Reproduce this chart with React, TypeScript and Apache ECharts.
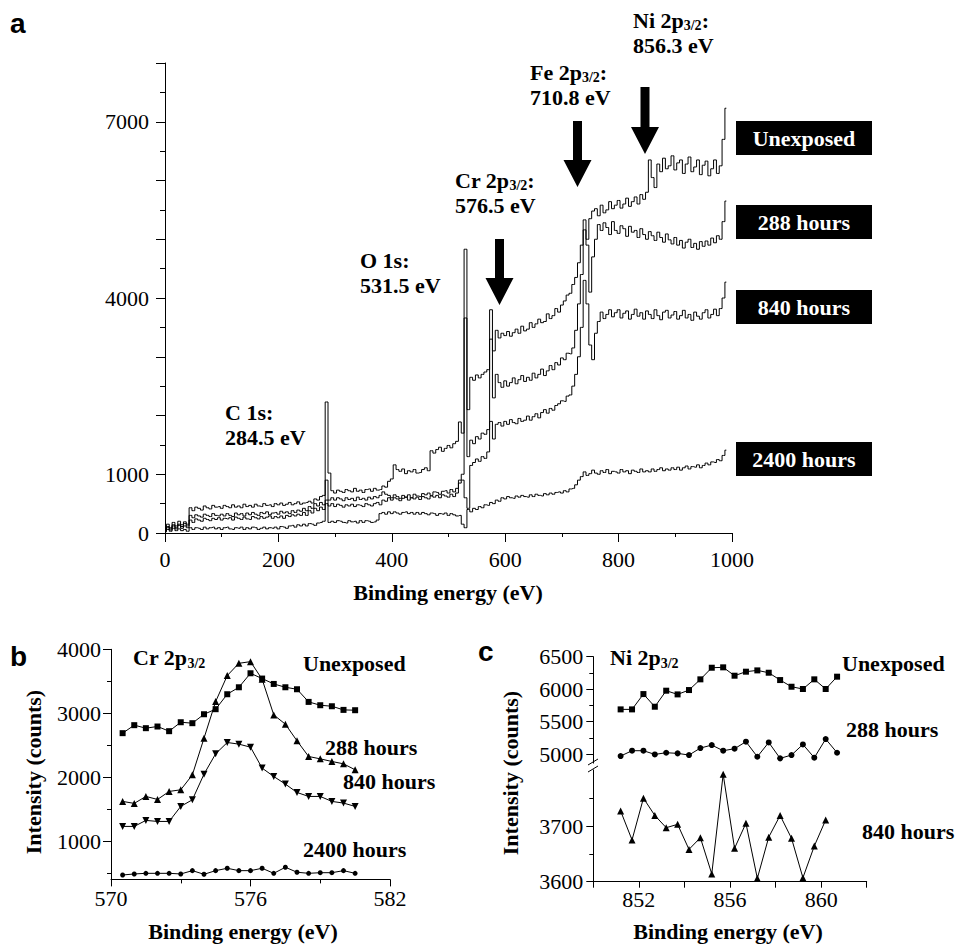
import React, { useEffect, useRef } from 'react';
import * as echarts from 'echarts';

// ---------- Panel a: survey spectra (binding energy, eV) ----------
const energyA = [
  0, 5, 10, 15, 20, 25, 30, 35, 40, 45,
  50, 55, 60, 65, 70, 75, 80, 85, 90, 95,
  100, 105, 110, 115, 120, 125, 130, 135, 140, 145,
  150, 155, 160, 165, 170, 175, 180, 185, 190, 195,
  200, 205, 210, 215, 220, 225, 230, 235, 240, 245,
  250, 255, 260, 265, 270, 275, 280, 285, 290, 295,
  300, 305, 310, 315, 320, 325, 330, 335, 340, 345,
  350, 355, 360, 365, 370, 375, 380, 385, 390, 395,
  400, 405, 410, 415, 420, 425, 430, 435, 440, 445,
  450, 455, 460, 465, 470, 475, 480, 485, 490, 495,
  500, 505, 510, 515, 520, 525, 530, 535, 540, 545,
  550, 555, 560, 565, 570, 575, 580, 585, 590, 595,
  600, 605, 610, 615, 620, 625, 630, 635, 640, 645,
  650, 655, 660, 665, 670, 675, 680, 685, 690, 695,
  700, 705, 710, 715, 720, 725, 730, 735, 740, 745,
  750, 755, 760, 765, 770, 775, 780, 785, 790, 795,
  800, 805, 810, 815, 820, 825, 830, 835, 840, 845,
  850, 855, 860, 865, 870, 875, 880, 885, 890, 895,
  900, 905, 910, 915, 920, 925, 930, 935, 940, 945,
  950, 955, 960, 965, 970, 975, 980, 985, 990,
];

const unexposedA = [
  60, 150, 90, 180, 120, 200, 140, 190, 150, 430,
  380, 440, 420, 390, 460, 430, 410, 470, 440, 450,
  420, 470, 450, 430, 480, 440, 460, 430, 490, 450,
  470, 440, 490, 460, 450, 500, 470, 480, 450, 500,
  480, 510, 470, 490, 520, 480, 500, 530, 490, 510,
  520, 540, 510, 580, 560, 620, 640, 2230, 1020, 720,
  680, 730, 710, 690, 740, 720, 700, 760, 710, 730,
  690, 740, 750, 710, 760, 730, 740, 800, 780, 880,
  920, 1160, 1080, 1050, 1090, 1010, 1060, 1040, 1080, 1020,
  1030, 1080, 1110, 1060, 1400, 1360, 1420, 1460, 1390, 1440,
  1490, 1450, 1520, 1560, 1890, 1700, 4830, 2100, 2650, 2600,
  2690, 2640, 2700, 2740, 2780, 3800, 3100, 3450, 3320, 3400,
  3360, 3430, 3350, 3410, 3470, 3400, 3520, 3440, 3470, 3580,
  3500, 3560, 3640, 3580, 3600, 3730, 3650, 3700, 3820, 3760,
  3880, 3950, 4050, 4080, 4230, 4350, 4600, 4900, 5160, 5000,
  5350, 5480, 5520, 5400, 5580, 5450, 5500, 5640, 5520, 5580,
  5660, 5530, 5600, 5700, 5560, 5640, 5720, 5600, 5760, 5680,
  5800, 6350, 6050, 5880, 6280, 6150, 6380, 6200, 6250, 6420,
  6180, 6300, 6350, 6120, 6280, 6400, 6150, 6230, 6350, 6100,
  6260, 6330, 6080, 6200, 6350, 6120, 6250, 6700, 7230,
];

const h288A = [
  40, 110, 70, 140, 90, 150, 110, 160, 120, 300,
  260, 310, 290, 270, 320, 300, 280, 330, 300, 290,
  320, 290, 330, 300, 280, 340, 310, 330, 290, 340,
  310, 350, 320, 300, 350, 330, 360, 310, 340, 350,
  320, 370, 340, 360, 330, 380, 350, 390, 370, 420,
  380, 450, 420, 500, 460, 520, 480, 900, 560, 600,
  560, 600, 580, 550, 600, 570, 590, 550, 610, 570,
  590, 560, 610, 580, 620, 600, 640, 700, 660, 640,
  600, 650, 620, 590, 640, 610, 650, 600, 660, 630,
  620, 670, 650, 680, 640, 700, 690, 660, 710, 720,
  680, 740, 700, 760, 900, 1000, 3660, 1300, 1580, 1520,
  1640, 1600, 1700, 1680, 1760, 3300, 2300, 2700, 2560, 2480,
  2590, 2500, 2560, 2640, 2540, 2610, 2680, 2580, 2650, 2600,
  2720, 2640, 2700, 2790, 2680, 2760, 2850, 2780, 2900, 2860,
  2980, 2950, 3060, 3050, 3150, 3450, 3900, 4400, 5330, 4900,
  4100, 4700, 5000, 5250, 5150, 5280, 5200, 5080, 5300, 5150,
  5100, 5230, 5180, 5050, 5220, 5120, 5150, 5030, 5180, 5080,
  5000, 5130, 5060, 4980, 5120, 5030, 4950, 5090, 4990, 4920,
  5030, 4900, 4980, 4850, 4950, 5000, 4860, 4930, 4830, 4960,
  4880, 4970, 4900, 5020, 4940, 5060, 5000, 5300, 5650,
];

const h840A = [
  30, 90, 50, 120, 70, 130, 80, 120, 90, 220,
  180, 240, 220, 200, 250, 230, 210, 250, 230, 260,
  220, 250, 240, 260, 220, 270, 250, 230, 270, 240,
  230, 280, 260, 240, 280, 250, 270, 290, 250, 280,
  260, 290, 250, 300, 280, 310, 290, 320, 300, 350,
  300, 380, 340, 420, 380, 440, 400, 560, 460, 500,
  450, 490, 470, 440, 480, 460, 490, 450, 480, 470,
  450, 500, 480, 460, 500, 520, 480, 560, 540, 600,
  560, 600, 580, 550, 590, 610, 560, 600, 580, 610,
  570, 620, 600, 580, 630, 610, 640, 600, 650, 630,
  610, 660, 620, 680, 850, 900, 600, 420, 1150, 1200,
  1260, 1220, 1300, 1270, 1380, 1900, 1600, 1850, 1880, 1820,
  1900, 1850, 1930, 1880, 1860, 1950, 1900, 1920, 1990, 1920,
  1980, 2030, 1960, 2050, 2100, 2040, 2120, 2090, 2170, 2200,
  2250, 2240, 2330, 2350, 2500, 2700, 3000, 3500, 4300, 3900,
  3200, 2950, 3400, 3600, 3760, 3650, 3720, 3800, 3680, 3750,
  3800, 3660, 3740, 3780, 3640, 3720, 3810, 3690, 3750, 3640,
  3780, 3720, 3650, 3800, 3700, 3630, 3760, 3790, 3660, 3710,
  3770, 3640, 3700, 3790, 3660, 3720, 3620, 3760, 3690, 3640,
  3750, 3800, 3660, 3720, 3810, 3700, 3820, 4000, 4270,
];

const h2400A = [
  20, 60, 30, 80, 40, 70, 40, 60, 30, 90,
  60, 90, 80, 60, 100, 70, 90, 100, 70, 90,
  60, 90, 100, 70, 60, 90, 80, 100, 60, 90,
  70, 100, 90, 60, 80, 100, 70, 90, 80, 100,
  70, 110, 100, 80, 120, 130, 100, 140, 120, 150,
  120, 160, 150, 130, 170, 180, 200, 500, 180, 200,
  180, 210, 200, 180, 170, 210, 190, 200, 170, 210,
  180, 210, 200, 180, 190, 220, 330, 350, 320, 360,
  330, 360, 340, 320, 350, 360, 330, 350, 320, 350,
  320, 350, 330, 310, 340, 330, 300, 330, 320, 340,
  300, 330, 310, 290, 300, 150, 90, 400, 360, 420,
  400, 450, 430, 480, 470, 520, 500, 560, 540, 600,
  580, 620, 600, 590, 630, 610, 640, 620, 610, 650,
  620, 660, 640, 630, 670, 650, 680, 660, 690, 700,
  680, 720, 700, 750, 760, 820, 900, 960, 1040, 980,
  1010, 1070, 1020, 1000, 1060, 1030, 1080, 1010, 1050, 1040,
  1020, 1080, 1040, 1060, 1010, 1070, 1050, 1030, 1090, 1040,
  1060, 1040, 1090, 1050, 1080, 1110, 1060, 1090, 1070, 1110,
  1080, 1120, 1070, 1110, 1140, 1090, 1130, 1120, 1160, 1110,
  1150, 1190, 1160, 1210, 1200, 1250, 1230, 1320, 1410,
];

// ---------- Panel b: Cr 2p3/2 ----------
const crEnergy = [570.5, 571, 571.5, 572, 572.5, 573, 573.5, 574, 574.5, 575, 575.5, 576, 576.5, 577, 577.5, 578, 578.5, 579, 579.5, 580, 580.5];
const crUnexposed = [2688, 2813, 2766, 2792, 2719, 2859, 2844, 2984, 3063, 3297, 3406, 3625, 3542, 3458, 3406, 3375, 3177, 3125, 3109, 3052, 3047];
const cr288 = [1620, 1589, 1698, 1651, 1776, 1802, 2036, 2609, 3182, 3589, 3781, 3807, 3531, 2974, 2828, 2568, 2323, 2286, 2245, 2208, 2115];
const cr840 = [1229, 1229, 1323, 1307, 1307, 1542, 1646, 2047, 2365, 2542, 2516, 2469, 2141, 2010, 1891, 1760, 1698, 1698, 1620, 1594, 1542];
const cr2400 = [469, 485, 495, 495, 495, 485, 537, 480, 537, 574, 537, 537, 574, 495, 590, 512, 495, 505, 505, 537, 495];

// ---------- Panel c: Ni 2p3/2 ----------
const niEnergy = [851.2, 851.7, 852.2, 852.7, 853.2, 853.7, 854.2, 854.7, 855.2, 855.7, 856.2, 856.7, 857.2, 857.7, 858.2, 858.7, 859.2, 859.7, 860.2, 860.7];
const niUnexposed = [5688, 5688, 5924, 5729, 5976, 5919, 5986, 6151, 6330, 6336, 6207, 6269, 6289, 6253, 6140, 6037, 6002, 6151, 6002, 6192];
const ni288 = [4969, 5051, 5051, 4994, 5020, 5010, 4984, 5092, 5138, 5051, 5082, 5190, 4958, 5179, 4933, 4984, 5148, 4943, 5231, 5020];
const ni840 = [3727, 3675, 3750, 3719, 3697, 3703, 3658, 3679, 3614, 3793, 3660, 3705, 3606, 3680, 3719, 3678, 3607, 3664, 3711];

// tick labels
const aYLabels = [0, 1000, 4000, 7000];
const bYLabels = [1000, 2000, 3000, 4000];
const bYMinor = [500, 1500, 2500, 3500];
const cUpperLabels = [5000, 5500, 6000, 6500];
const cUpperMinor = [5250, 5750, 6250];
const cLowerLabels = [3600, 3700];
const cLowerMinor = [3650, 3750];
const cXLabels = [852, 856, 860];

const SERIF = "'Liberation Serif', 'Times New Roman', Times, serif";
const SANS = "'Liberation Sans', Arial, Helvetica, sans-serif";
const BLACK = '#000';

const pairs = (xs: number[], ys: number[]) => ys.map((y, i) => [xs[i], y]);
const plain = (v: number) => String(v);

const axisLine = { show: true, onZero: false, lineStyle: { color: BLACK, width: 1 } };
const labelStyle = (margin: number, extra: any = {}) => ({
  color: BLACK, fontFamily: SERIF, fontSize: 22, margin, formatter: plain, ...extra,
});

function arrow(cx: number, top: number, headY: number, tipY: number) {
  return {
    type: 'polygon', z: 100,
    shape: {
      points: [
        [cx - 4.5, top], [cx + 4.5, top], [cx + 4.5, headY], [cx + 14, headY],
        [cx, tipY], [cx - 14, headY], [cx - 4.5, headY],
      ],
    },
    style: { fill: BLACK },
  };
}

const richMain = { fontSize: 22, fontWeight: 'bold', fontFamily: SERIF, fill: BLACK, color: BLACK, lineHeight: 25 };
const richSub = { fontSize: 14, fontWeight: 'bold', fontFamily: SERIF, fill: BLACK, color: BLACK, lineHeight: 14, verticalAlign: 'bottom' };

function peakLabel(x: number, y: number, text: string) {
  return {
    type: 'text', z: 100, x, y,
    style: {
      text, align: 'left', verticalAlign: 'top',
      rich: { m: richMain, s: richSub },
      fontSize: 22, fontWeight: 'bold', fontFamily: SERIF, fill: BLACK,
    },
  };
}

function boldText(x: number, y: number, text: string, align = 'left', fill = BLACK, size = 22) {
  return {
    type: 'text', z: 100, x, y,
    style: { text, fill, fontSize: size, fontWeight: 'bold', fontFamily: SERIF, align, verticalAlign: 'middle' },
  };
}

function boxLabel(y: number, text: string) {
  return [
    { type: 'rect', z: 99, shape: { x: 736, y, width: 136, height: 34 }, style: { fill: BLACK } },
    boldText(804, y + 17, text, 'center', '#fff'),
  ];
}

const minorAxis = (gridIndex: number, min: number, max: number, values: number[]) => ({
  type: 'value', gridIndex, min, max, position: 'left',
  axisLine: { show: false }, splitLine: { show: false }, axisLabel: { show: false },
  axisTick: { show: true, length: 4, customValues: values, lineStyle: { color: BLACK } },
});

export default function App() {
  const ref = useRef<HTMLDivElement>(null);

  useEffect(() => {
    if (!ref.current) return;
    const chart = echarts.init(ref.current, null, { renderer: 'svg' });

    const lineSeriesA = (name: string, ys: number[]) => ({
      name, type: 'line', xAxisIndex: 0, yAxisIndex: 0,
      data: pairs(energyA, ys), symbol: 'none', step: 'middle',
      lineStyle: { color: BLACK, width: 1 }, silent: true,
    });
    const markerSeries = (name: string, xi: number, yi: number, xs: number[], ys: number[], symbol: string, size: number, rotate = 0) => ({
      name, type: 'line', xAxisIndex: xi, yAxisIndex: yi,
      data: pairs(xs, ys), symbol, symbolSize: size, symbolRotate: rotate, showSymbol: true,
      lineStyle: { color: BLACK, width: 1 }, itemStyle: { color: BLACK, borderWidth: 0 }, silent: true,
    });

    const option: any = {
      animation: false,
      backgroundColor: '#fff',
      textStyle: { fontFamily: SERIF },
      grid: [
        { left: 165, top: 63, width: 567, height: 470, outerBoundsMode: 'none' },
        { left: 111, top: 649.3, width: 279, height: 230.1, outerBoundsMode: 'none' },
        { left: 593.3, top: 656.7, width: 273.4, height: 110.3, outerBoundsMode: 'none' },
        { left: 593.3, top: 767, width: 273.4, height: 114.7, outerBoundsMode: 'none' },
      ],
      xAxis: [
        {
          type: 'value', gridIndex: 0, min: 0, max: 1000, interval: 200,
          axisLine, splitLine: { show: false },
          axisTick: { show: true, length: 9, lineStyle: { color: BLACK } },
          minorTick: { show: true, splitNumber: 2, length: 4, lineStyle: { color: BLACK } },
          axisLabel: labelStyle(15),
        },
        {
          type: 'value', gridIndex: 1, min: 570, max: 582, interval: 6,
          axisLine, splitLine: { show: false },
          axisTick: { show: true, length: 7, lineStyle: { color: BLACK } },
          minorTick: { show: true, splitNumber: 2, length: 4, lineStyle: { color: BLACK } },
          axisLabel: labelStyle(8),
        },
        { type: 'value', gridIndex: 2, min: 850, max: 862, show: false },
        {
          type: 'value', gridIndex: 3, min: 850, max: 862, interval: 2,
          axisLine, splitLine: { show: false },
          axisTick: { show: true, length: 6, lineStyle: { color: BLACK } },
          axisLabel: labelStyle(7, { customValues: cXLabels }),
        },
      ],
      yAxis: [
        {
          type: 'value', gridIndex: 0, min: 0, max: 8000, interval: 1000,
          axisLine, splitLine: { show: false },
          axisTick: { show: true, length: 9, lineStyle: { color: BLACK } },
          minorTick: { show: true, splitNumber: 2, length: 5, lineStyle: { color: BLACK } },
          axisLabel: labelStyle(16, { customValues: aYLabels }),
        },
        {
          type: 'value', gridIndex: 1, min: 400, max: 4000, position: 'left',
          axisLine, splitLine: { show: false },
          axisTick: { show: true, length: 8, customValues: bYLabels, lineStyle: { color: BLACK } },
          axisLabel: labelStyle(10, { customValues: bYLabels }),
        },
        {
          type: 'value', gridIndex: 2, min: 4800, max: 6500, position: 'left',
          axisLine, splitLine: { show: false },
          axisTick: { show: true, length: 7, customValues: cUpperLabels, lineStyle: { color: BLACK } },
          axisLabel: labelStyle(10, { customValues: cUpperLabels }),
        },
        {
          type: 'value', gridIndex: 3, min: 3600, max: 3806, position: 'left',
          axisLine, splitLine: { show: false },
          axisTick: { show: true, length: 7, customValues: cLowerLabels, lineStyle: { color: BLACK } },
          axisLabel: labelStyle(10, { customValues: cLowerLabels }),
        },
        minorAxis(1, 400, 4000, bYMinor),
        minorAxis(2, 4800, 6500, cUpperMinor),
        minorAxis(3, 3600, 3806, cLowerMinor),
      ],
      series: [
        lineSeriesA('Unexposed', unexposedA),
        lineSeriesA('288 hours', h288A),
        lineSeriesA('840 hours', h840A),
        lineSeriesA('2400 hours', h2400A),
        markerSeries('Cr Unexposed', 1, 1, crEnergy, crUnexposed, 'rect', 6),
        markerSeries('Cr 288 hours', 1, 1, crEnergy, cr288, 'triangle', 7),
        markerSeries('Cr 840 hours', 1, 1, crEnergy, cr840, 'triangle', 7, 180),
        markerSeries('Cr 2400 hours', 1, 1, crEnergy, cr2400, 'circle', 5),
        markerSeries('Ni Unexposed', 2, 2, niEnergy, niUnexposed, 'rect', 6),
        markerSeries('Ni 288 hours', 2, 2, niEnergy, ni288, 'circle', 6),
        markerSeries('Ni 840 hours', 3, 3, niEnergy, ni840, 'triangle', 7),
      ],
      graphic: [
        // panel letters
        { type: 'text', z: 100, x: 10, y: 23, style: { text: 'a', fill: BLACK, fontSize: 28, fontWeight: 'bold', fontFamily: SANS, verticalAlign: 'middle' } },
        { type: 'text', z: 100, x: 10, y: 656, style: { text: 'b', fill: BLACK, fontSize: 28, fontWeight: 'bold', fontFamily: SANS, verticalAlign: 'middle' } },
        { type: 'text', z: 100, x: 478, y: 651, style: { text: 'c', fill: BLACK, fontSize: 28, fontWeight: 'bold', fontFamily: SANS, verticalAlign: 'middle' } },
        // peak annotations (panel a)
        peakLabel(633, 7.6, '{m|Ni 2p}{s|3/2}{m|:}\n{m|856.3 eV}'),
        peakLabel(530, 59.6, '{m|Fe 2p}{s|3/2}{m|:}\n{m|710.8 eV}'),
        peakLabel(455, 167.6, '{m|Cr 2p}{s|3/2}{m|:}\n{m|576.5 eV}'),
        peakLabel(360, 247.6, '{m|O 1s:}\n{m|531.5 eV}'),
        peakLabel(225, 399.6, '{m|C 1s:}\n{m|284.5 eV}'),
        arrow(499.5, 239, 278, 305),
        arrow(577.5, 121, 160, 187),
        arrow(645, 87, 127, 154),
        ...boxLabel(121, 'Unexposed'),
        ...boxLabel(205, '288 hours'),
        ...boxLabel(290, '840 hours'),
        ...boxLabel(442, '2400 hours'),
        // axis names
        boldText(448, 592, 'Binding energy (eV)', 'center'),
        boldText(243, 931, 'Binding energy (eV)', 'center'),
        boldText(728, 931, 'Binding energy (eV)', 'center'),
        { type: 'text', z: 100, x: 33, y: 772, rotation: Math.PI / 2, style: { text: 'Intensity (counts)', fill: BLACK, fontSize: 22, fontWeight: 'bold', fontFamily: SERIF, align: 'center', verticalAlign: 'middle' } },
        { type: 'text', z: 100, x: 510, y: 773, rotation: Math.PI / 2, style: { text: 'Intensity (counts)', fill: BLACK, fontSize: 22, fontWeight: 'bold', fontFamily: SERIF, align: 'center', verticalAlign: 'middle' } },
        // panel b labels
        peakLabel(133, 645, '{m|Cr 2p}{s|3/2}'),
        boldText(303, 663, 'Unexposed'),
        boldText(325, 747, '288 hours'),
        boldText(343, 781, '840 hours'),
        boldText(303, 849, '2400 hours'),
        // panel c labels
        peakLabel(610, 645, '{m|Ni 2p}{s|3/2}'),
        boldText(842, 663, 'Unexposed'),
        boldText(846, 729, '288 hours'),
        boldText(862, 831, '840 hours'),
        // axis break marks (panel c)
        { type: 'rect', z: 100, shape: { x: 589, y: 763.5, width: 9, height: 6 }, style: { fill: '#fff' } },
        { type: 'line', z: 101, shape: { x1: 588, y1: 765, x2: 598, y2: 759 }, style: { stroke: BLACK, lineWidth: 1 } },
        { type: 'line', z: 101, shape: { x1: 588, y1: 772, x2: 598, y2: 766 }, style: { stroke: BLACK, lineWidth: 1 } },
      ],
    };

    chart.setOption(option);
    return () => chart.dispose();
  }, []);

  return (
    <div
      ref={ref}
      style={{ position: 'absolute', left: 0, top: 0, width: 958, height: 944, background: '#fff' }}
    />
  );
}
